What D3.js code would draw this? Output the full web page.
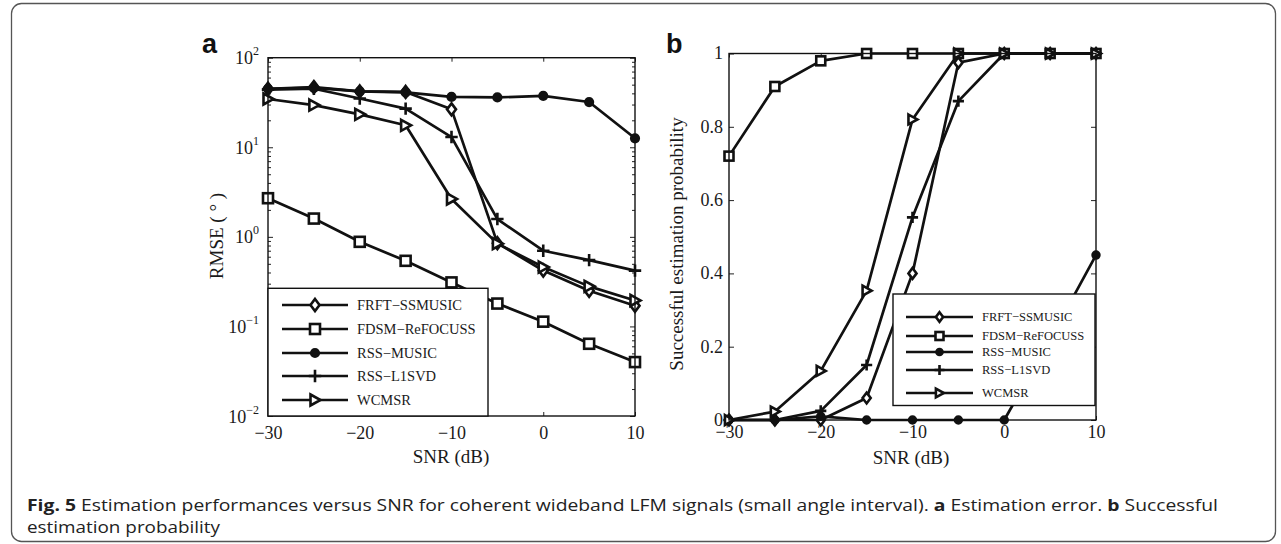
<!DOCTYPE html>
<html>
<head>
<meta charset="utf-8">
<script src="https://cdn.jsdelivr.net/npm/d3@7/dist/d3.min.js"></script>
<style>
  body { margin: 0; background: #fff; }
  svg { display: block; }
</style>
</head>
<body>
<div id="screen"></div>
<script>
var width = 1281;
var height = 544;

// data ------------------------------------------------------------
var snr = [-30, -25, -20, -15, -10, -5, 0, 5, 10];
var seriesNames = ["FRFT\u2212SSMUSIC", "FDSM\u2212ReFOCUSS", "RSS\u2212MUSIC", "RSS\u2212L1SVD", "WCMSR"];

// panel a: RMSE (deg), log scale
var rmseFRFT = [45, 47, 42, 41.5, 26.5, 0.85, 0.42, 0.25, 0.17];
var rmseFDSM = [2.7, 1.6, 0.88, 0.54, 0.31, 0.18, 0.113, 0.064, 0.04];
var rmseRSSMUSIC = [45, 46, 42, 41, 36.5, 36, 37.5, 32, 12.6];
var rmseL1SVD = [44, 45, 35, 27, 13, 1.58, 0.7, 0.55, 0.42];
var rmseWCMSR = [34.6, 29.6, 23.3, 17.6, 2.65, 0.84, 0.46, 0.28, 0.195];

// panel b: success probability
var probFRFT = [0, 0, 0, 0.06, 0.4, 0.975, 1, 1, 1];
var probFDSM = [0.72, 0.91, 0.98, 1, 1, 1, 1, 1, 1];
var probRSSMUSIC = [0, 0, 0.01, 0, 0, 0, 0, 0.22, 0.45];
var probL1SVD = [0, 0, 0.025, 0.15, 0.553, 0.87, 1, 1, 1];
var probWCMSR = [0, 0.023, 0.134, 0.353, 0.82, 1, 1, 1, 1];

var xTicks = [-30, -20, -10, 0, 10];
var logTicks = [0.01, 0.1, 1, 10, 100];
var logExps = ["\u22122", "\u22121", "0", "1", "2"];
var probTicks = [0, 0.2, 0.4, 0.6, 0.8, 1];

var markers = ["diamond", "square", "circle", "plus", "triangle"];

var serif = "'Liberation Serif', 'Times New Roman', serif";
var ink = "#111";

var svg = d3.select("#screen")
    .append("svg")
    .attr("width", width)
    .attr("height", height);

// frame
svg.append("rect")
    .attr("x", 11.5)
    .attr("y", 3.5)
    .attr("width", 1264)
    .attr("height", 538)
    .attr("rx", 10)
    .attr("fill", "none")
    .attr("stroke", "#555")
    .attr("stroke-width", 1.3);

// markers ----------------------------------------------------------
function drawMarker(g, type, x, y, s) {
    var m;
    if (type == "diamond") {
        m = g.append("path")
            .attr("d", "M" + x + "," + (y - s * 0.6) + "L" + (x + s * 0.45) + "," + y +
                "L" + x + "," + (y + s * 0.6) + "L" + (x - s * 0.45) + "," + y + "Z")
            .attr("fill", "#fff");
    } else if (type == "square") {
        m = g.append("rect")
            .attr("x", x - s / 2).attr("y", y - s / 2)
            .attr("width", s).attr("height", s)
            .attr("fill", "#fff");
    } else if (type == "circle") {
        m = g.append("circle")
            .attr("cx", x).attr("cy", y).attr("r", s * 0.38)
            .attr("fill", ink);
    } else if (type == "plus") {
        m = g.append("path")
            .attr("d", "M" + (x - s * 0.62) + "," + y + "H" + (x + s * 0.62) +
                "M" + x + "," + (y - s * 0.62) + "V" + (y + s * 0.62))
            .attr("fill", "none");
    } else {
        m = g.append("path")
            .attr("d", "M" + (x - s * 0.45) + "," + (y - s * 0.55) + "L" + (x + s * 0.55) + "," + y +
                "L" + (x - s * 0.45) + "," + (y + s * 0.55) + "Z")
            .attr("fill", "#fff");
    }
    m.attr("stroke", ink).attr("stroke-width", 2.6).attr("stroke-linejoin", "miter");
}

function drawSeries(g, xs, ys, vals, type, s) {
    var line = d3.line()
        .x(function(d, i) { return xs(snr[i]); })
        .y(function(d) { return ys(d); });
    g.append("path")
        .datum(vals)
        .attr("d", line)
        .attr("fill", "none")
        .attr("stroke", ink)
        .attr("stroke-width", 2.7)
        .attr("stroke-linejoin", "round");
    vals.forEach(function(v, i) {
        drawMarker(g, type, xs(snr[i]), ys(v), s);
    });
}

function drawLegend(g, x0, y0, w, h, rows, lx1, lx2, tx, fs, ms) {
    g.append("rect")
        .attr("x", x0).attr("y", y0)
        .attr("width", w).attr("height", h)
        .attr("fill", "#fff")
        .attr("stroke", ink)
        .attr("stroke-width", 1.4);
    seriesNames.forEach(function(name, i) {
        var y = rows[i];
        g.append("line")
            .attr("x1", lx1).attr("x2", lx2)
            .attr("y1", y).attr("y2", y)
            .attr("stroke", ink)
            .attr("stroke-width", 2.7);
        drawMarker(g, markers[i], (lx1 + lx2) / 2, y, ms);
        g.append("text")
            .attr("x", tx).attr("y", y + fs * 0.33)
            .attr("font-family", serif)
            .attr("font-size", fs)
            .attr("fill", "#1a1a1a")
            .text(name);
    });
}

// panel a -----------------------------------------------------------
var ax = d3.scaleLinear().domain([-30, 10]).range([268, 635]);
var ay = d3.scaleLog().domain([0.01, 100]).range([416, 57.7]);
var pa = svg.append("g");

var minorA = [];
[0.01, 0.1, 1, 10].forEach(function(d) {
    for (var k = 2; k <= 9; k++) minorA.push(d * k);
});

pa.append("g")
    .attr("transform", "translate(0,416)")
    .call(d3.axisBottom(ax).tickValues(xTicks).tickSize(-4).tickPadding(10))
    .call(function(g) {
        g.select(".domain").remove();
        g.selectAll("text").attr("font-family", serif).attr("font-size", 18).attr("fill", "#1a1a1a");
    });
pa.append("g")
    .attr("transform", "translate(0,57.7)")
    .call(d3.axisTop(ax).tickValues(xTicks).tickSize(-4).tickFormat(""))
    .call(function(g) { g.select(".domain").remove(); });
[["axisLeft", 268], ["axisRight", 635]].forEach(function(a) {
    pa.append("g")
        .attr("transform", "translate(" + a[1] + ",0)")
        .call(d3[a[0]](ay).tickValues(logTicks).tickSize(-5).tickFormat(""))
        .call(function(g) { g.select(".domain").remove(); });
    pa.append("g")
        .attr("transform", "translate(" + a[1] + ",0)")
        .call(d3[a[0]](ay).tickValues(minorA).tickSize(-3).tickFormat(""))
        .call(function(g) { g.select(".domain").remove(); });
});
pa.selectAll(".tick line").attr("stroke", "#222");

// log tick labels
logTicks.forEach(function(t, i) {
    var txt = pa.append("text")
        .attr("x", 259)
        .attr("y", ay(t) + 6.5)
        .attr("text-anchor", "end")
        .attr("font-family", serif)
        .attr("font-size", 18)
        .attr("fill", "#1a1a1a");
    txt.append("tspan").text("10");
    txt.append("tspan")
        .attr("dy", -9)
        .attr("font-size", 12)
        .text(logExps[i]);
});

var seriesA = [rmseFRFT, rmseFDSM, rmseRSSMUSIC, rmseL1SVD, rmseWCMSR];
seriesA.forEach(function(vals, i) {
    drawSeries(pa, ax, ay, vals, markers[i], 10);
});

pa.append("rect")
    .attr("x", 268).attr("y", 57.7)
    .attr("width", 367).attr("height", 358.3)
    .attr("fill", "none")
    .attr("stroke", ink)
    .attr("stroke-width", 1.4);

drawLegend(pa, 268, 288.3, 220, 127.7, [305, 329, 353, 376, 400], 282, 348, 357, 14.5, 10);

pa.append("text")
    .attr("x", 451).attr("y", 463)
    .attr("text-anchor", "middle")
    .attr("font-family", serif).attr("font-size", 19).attr("fill", "#1a1a1a")
    .text("SNR (dB)");
pa.append("text")
    .attr("transform", "translate(223,236) rotate(-90)")
    .attr("text-anchor", "middle")
    .attr("font-family", serif).attr("font-size", 19).attr("fill", "#1a1a1a")
    .text("RMSE ( \u00b0 )");
pa.append("text")
    .attr("x", 202).attr("y", 53)
    .attr("font-family", "'Liberation Sans', Arial, sans-serif")
    .attr("font-weight", "bold").attr("font-size", 27).attr("fill", ink)
    .text("a");

// panel b -----------------------------------------------------------
var bx = d3.scaleLinear().domain([-30, 10]).range([729, 1096]);
var by = d3.scaleLinear().domain([0, 1]).range([420, 53.5]);
var pb = svg.append("g");

pb.append("g")
    .attr("transform", "translate(0,420)")
    .call(d3.axisBottom(bx).tickValues(xTicks).tickSize(-4).tickPadding(5))
    .call(function(g) {
        g.select(".domain").remove();
        g.selectAll("text").attr("font-family", serif).attr("font-size", 18).attr("fill", "#1a1a1a");
    });
pb.append("g")
    .attr("transform", "translate(0,53.5)")
    .call(d3.axisTop(bx).tickValues(xTicks).tickSize(-4).tickFormat(""))
    .call(function(g) { g.select(".domain").remove(); });
pb.append("g")
    .attr("transform", "translate(729,0)")
    .call(d3.axisLeft(by).tickValues(probTicks).tickSize(-5).tickPadding(6)
        .tickFormat(function(d) { return d === 0 || d === 1 ? d : d.toFixed(1); }))
    .call(function(g) {
        g.select(".domain").remove();
        g.selectAll("text").attr("font-family", serif).attr("font-size", 18).attr("fill", "#1a1a1a")
            .attr("dy", "0.3em");
    });
pb.append("g")
    .attr("transform", "translate(1096,0)")
    .call(d3.axisRight(by).tickValues(probTicks).tickSize(-5).tickFormat(""))
    .call(function(g) { g.select(".domain").remove(); });
pb.selectAll(".tick line").attr("stroke", "#222");

var seriesB = [probFRFT, probFDSM, probRSSMUSIC, probL1SVD, probWCMSR];
seriesB.forEach(function(vals, i) {
    drawSeries(pb, bx, by, vals, markers[i], 9);
});

pb.append("rect")
    .attr("x", 729).attr("y", 53.5)
    .attr("width", 367).attr("height", 366.5)
    .attr("fill", "none")
    .attr("stroke", ink)
    .attr("stroke-width", 1.4);

drawLegend(pb, 893, 294, 202, 111.5, [317, 336, 352, 370, 393], 906, 973, 982, 12.5, 8);

pb.append("text")
    .attr("x", 911).attr("y", 464)
    .attr("text-anchor", "middle")
    .attr("font-family", serif).attr("font-size", 19).attr("fill", "#1a1a1a")
    .text("SNR (dB)");
pb.append("text")
    .attr("transform", "translate(683,244) rotate(-90)")
    .attr("text-anchor", "middle")
    .attr("font-family", serif).attr("font-size", 19).attr("fill", "#1a1a1a")
    .text("Successful estimation probability");
pb.append("text")
    .attr("x", 666).attr("y", 53)
    .attr("font-family", "'Liberation Sans', Arial, sans-serif")
    .attr("font-weight", "bold").attr("font-size", 27).attr("fill", ink)
    .text("b");

// caption -----------------------------------------------------------
var capFont = "'Liberation Sans Narrow', 'Open Sans', sans-serif";
var cap1 = svg.append("text")
    .attr("x", 27).attr("y", 511)
    .attr("font-family", capFont).attr("font-size", 15.5).attr("fill", "#222")
    .attr("textLength", 1191).attr("lengthAdjust", "spacingAndGlyphs");
cap1.append("tspan").attr("font-weight", "bold").text("Fig. 5");
cap1.append("tspan").text(" Estimation performances versus SNR for coherent wideband LFM signals (small angle interval). ");
cap1.append("tspan").attr("font-weight", "bold").text("a");
cap1.append("tspan").text(" Estimation error. ");
cap1.append("tspan").attr("font-weight", "bold").text("b");
cap1.append("tspan").text(" Successful");

svg.append("text")
    .attr("x", 27).attr("y", 533)
    .attr("font-family", capFont).attr("font-size", 15.5).attr("fill", "#222")
    .attr("textLength", 193).attr("lengthAdjust", "spacingAndGlyphs")
    .text("estimation probability");
</script>
</body>
</html>
